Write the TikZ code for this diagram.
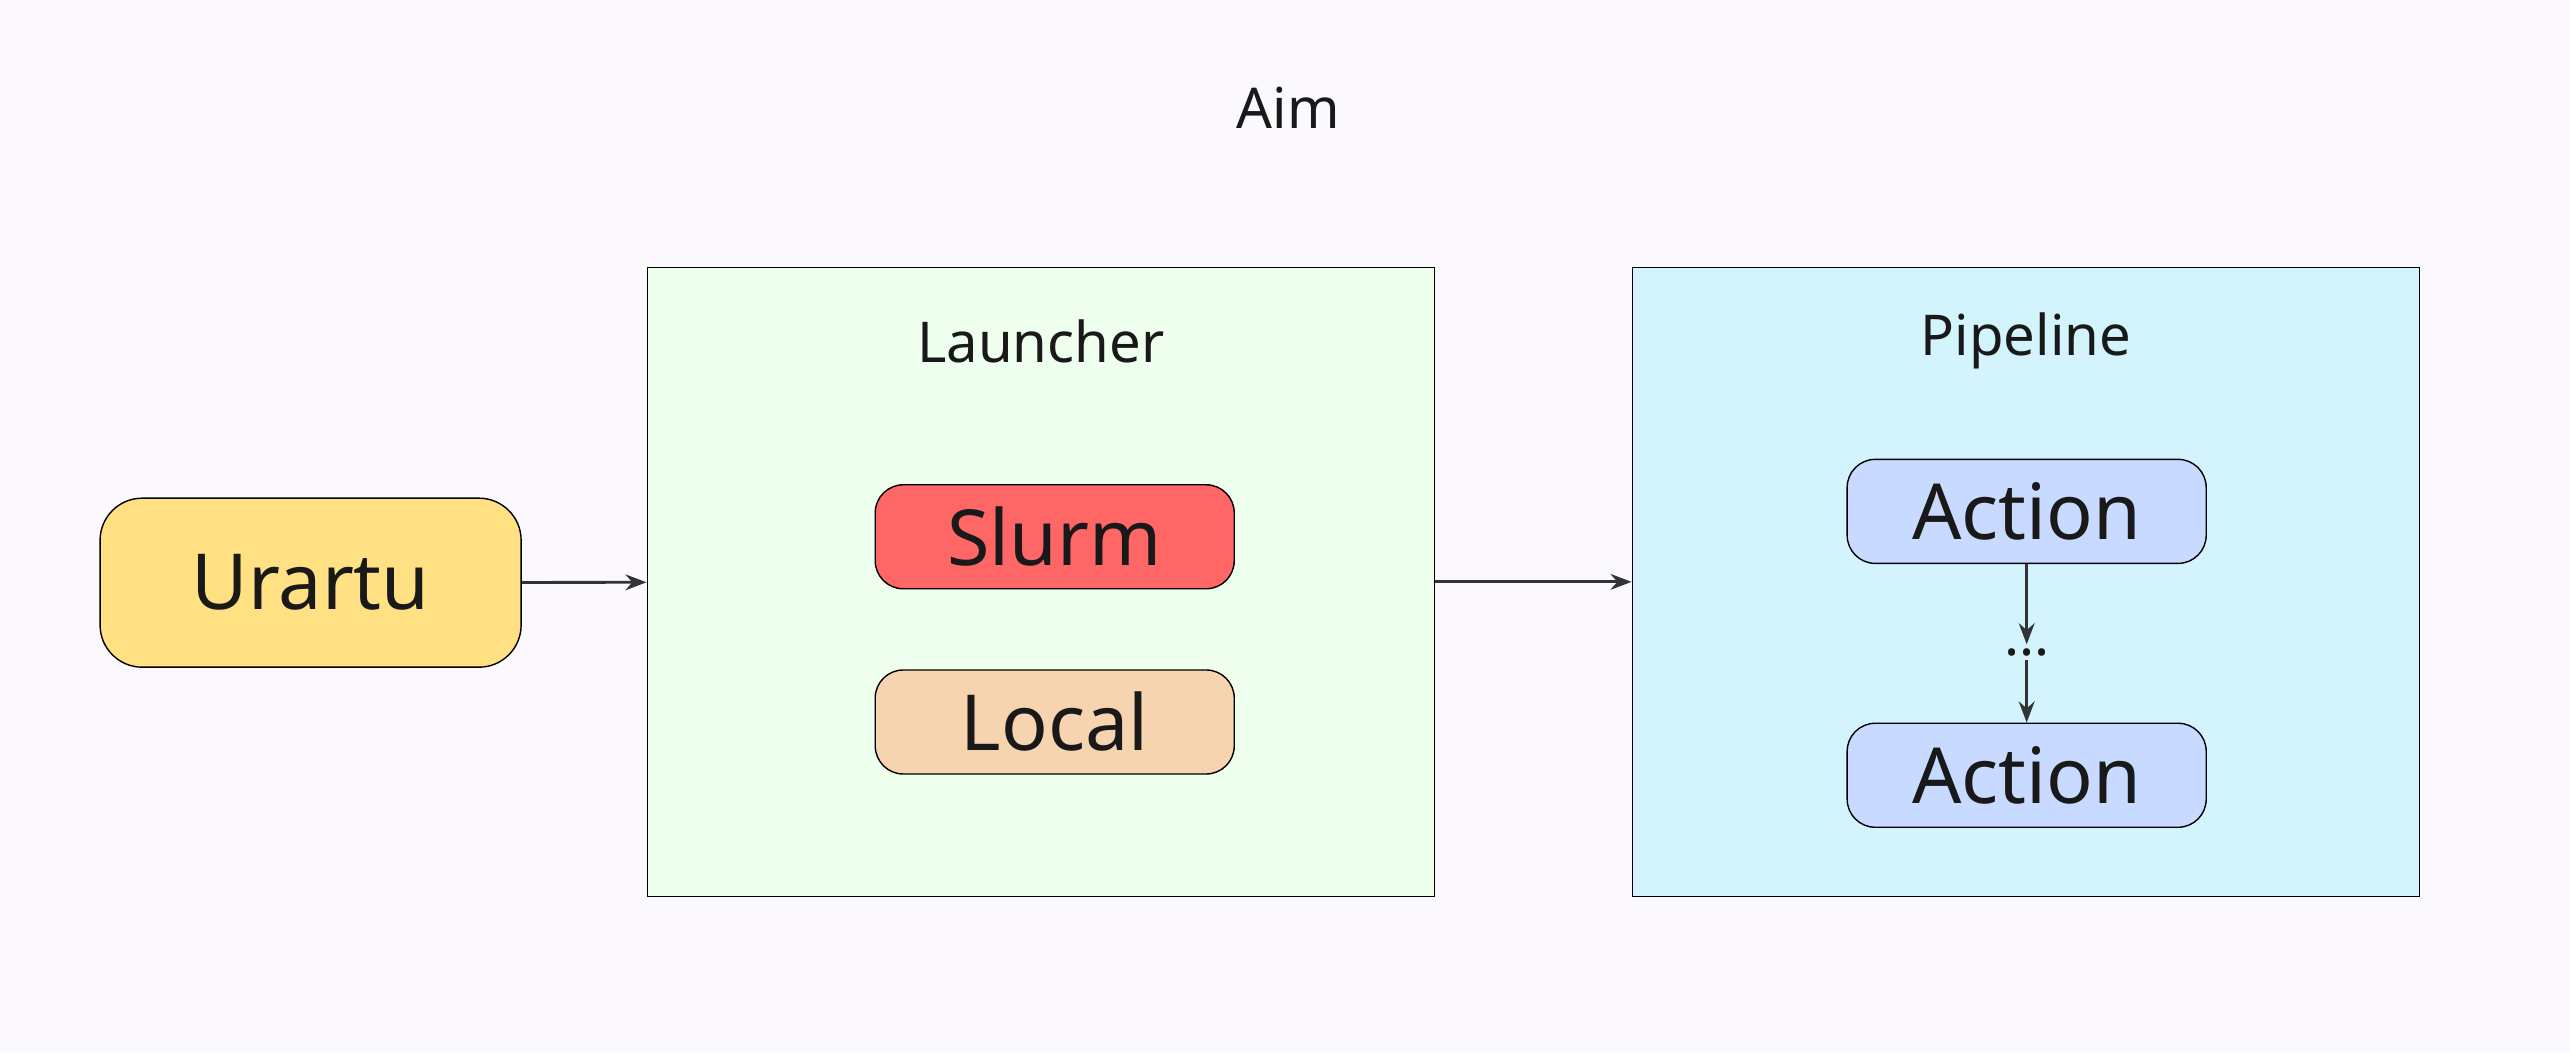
\documentclass[tikz,border=0pt]{standalone}
\usepackage{fontspec}
\setmainfont{Noto Sans}
\usetikzlibrary{positioning, arrows.meta}
\definecolor{bgcol}{HTML}{FCF9FE}
\definecolor{urartucol}{HTML}{FFE083}
\definecolor{launchcol}{HTML}{EEFFEE}
\definecolor{pipecol}{HTML}{D3F4FC}
\definecolor{slurmcol}{HTML}{FF6666}
\definecolor{localcol}{HTML}{F7D4B0}
\definecolor{actioncol}{HTML}{C8DAFF}
\begin{document}
\begin{tikzpicture}[
  x=0.01639cm, y=-0.01639cm,
  every node/.style={text=black!90, font=\fontsize{16}{18}\selectfont},
  block/.style={draw, thin, rounded corners=8pt, minimum width=3.59cm, minimum height=1.04cm, font=\fontsize{22}{24}\selectfont},
  group/.style={draw, thin, minimum width=7.87cm, minimum height=6.29cm},
  flow/.style={thick, draw=black!80, -{Stealth[length=6pt]}}
]
\fill[bgcol] (0,0) rectangle (1568,642);

% title
\node (aim) at (786,66) {Aim};

% source
\node[block, fill=urartucol, rounded corners=12pt, minimum width=4.21cm, minimum height=1.69cm] (urartu) at (189.5,355.5) {Urartu};

% launcher
\node[group, fill=launchcol] (launcher) at (635,355) {};
\node (launchtitle) at (635,208) {Launcher};
\node[block, fill=slurmcol] (slurm) at (643.5,327.5) {Slurm};
\node[block, fill=localcol] (local) at (643.5,440.5) {Local};

% pipeline
\node[group, fill=pipecol] (pipeline) at (1236,355) {};
\node (pipetitle) at (1236,208) {Pipeline};
\node[block, fill=actioncol] (action1) at (1236.5,312) {Action};
\node[block, fill=actioncol] (action2) at (1236.5,473) {Action};
\node[inner sep=1pt] (dots) at (1236.5,398) {...};

\draw[flow] (urartu) -- (launcher);
\draw[flow] (launcher) -- (pipeline);
\draw[flow] (action1) -- (dots);
\draw[flow] (dots) -- (action2);
\end{tikzpicture}
\end{document}
